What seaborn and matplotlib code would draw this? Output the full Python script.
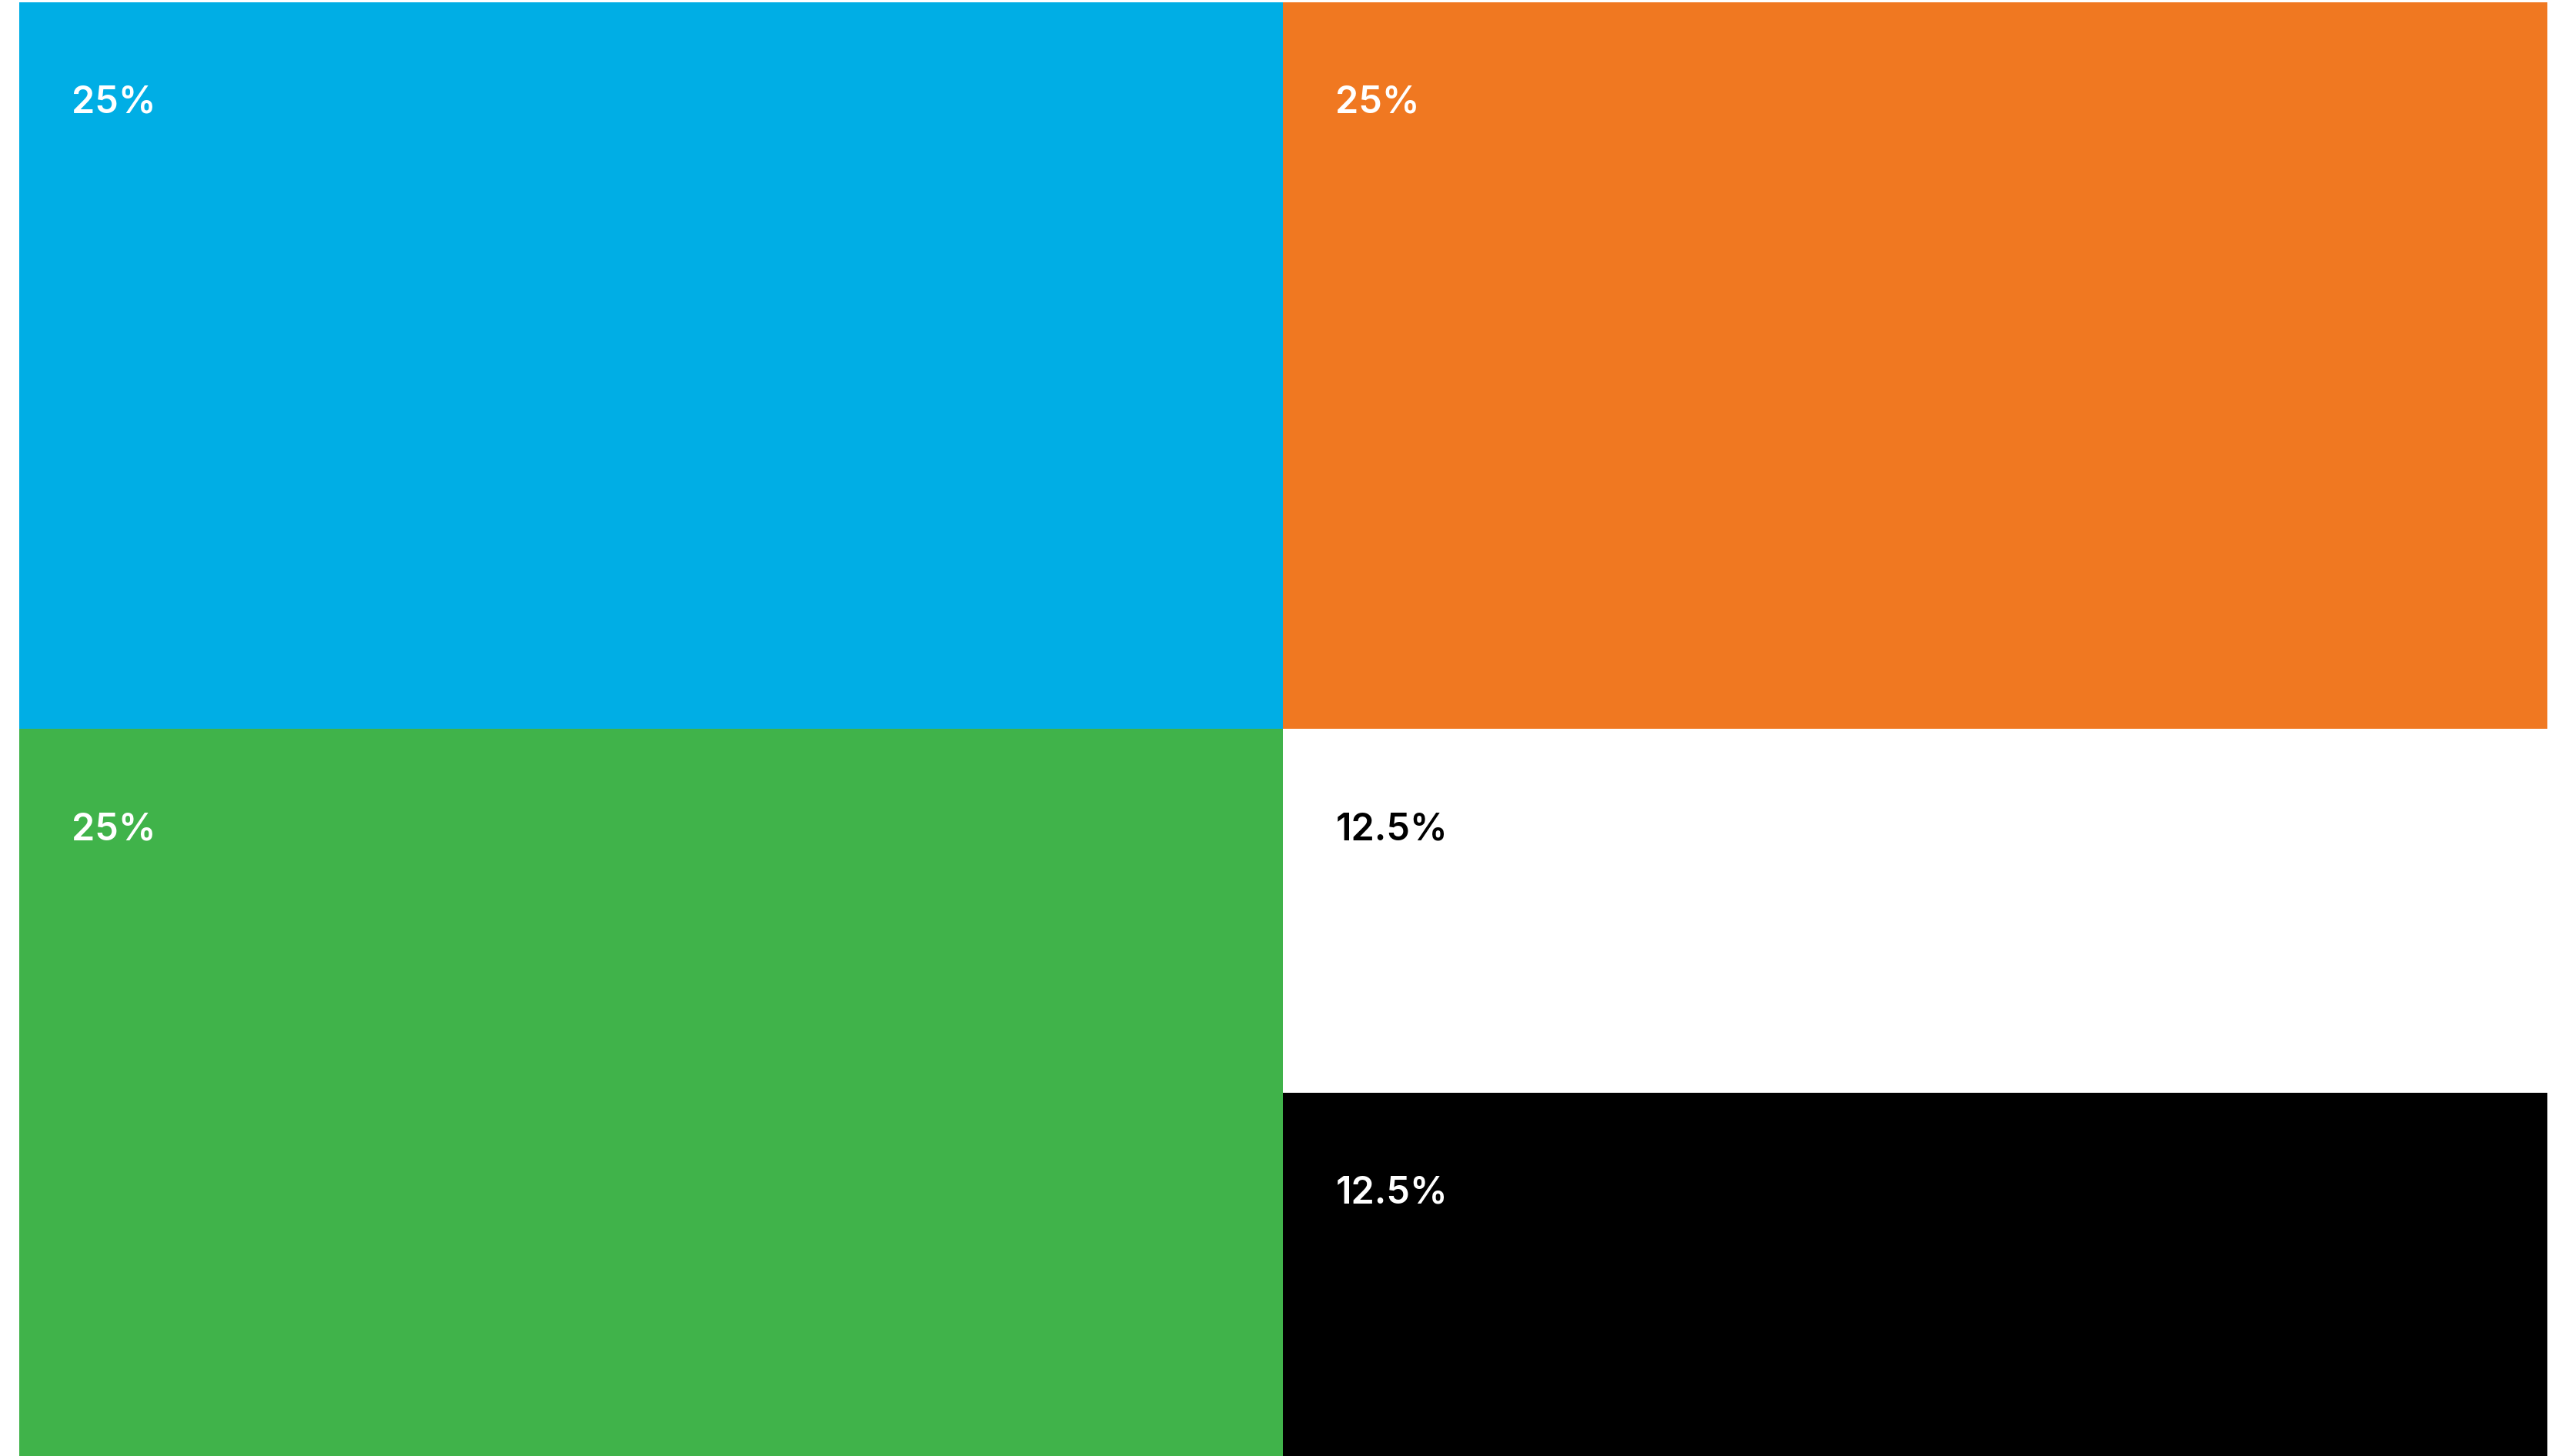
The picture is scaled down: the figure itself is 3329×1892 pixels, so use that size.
import matplotlib
matplotlib.use("Agg")
import matplotlib.pyplot as plt
import seaborn as sns

# ---- data ----
labels = ["25%", "25%", "25%", "12.5%", "12.5%"]
values = [25, 25, 25, 12.5, 12.5]
names = ["blue", "orange", "green", "white", "black"]
colors = ["#00AEE5", "#F07821", "#40B34A", "#FFFFFF", "#000000"]
text_colors = ["white", "white", "white", "black", "white"]
columns = [[0, 2], [1, 3, 4]]  # indices per treemap column

sns.set_theme(style="white")
plt.rcParams["font.family"] = ["Inter", "DejaVu Sans"]

W, H, DPI = 3330, 1892, 100
fig = plt.figure(figsize=(W / DPI, H / DPI), dpi=DPI)
ax = fig.add_axes([25 / W, 0, (3310 - 25) / W, (1892 - 3) / H])

total = sum(values)
x0 = 0.0
for col in columns:
    csum = sum(values[i] for i in col)
    cw = 100.0 * csum / total
    top = 100.0
    for i in col:
        h = 100.0 * values[i] / csum
        ax.bar(x0, h, width=cw, bottom=top - h, align="edge",
               color=colors[i], edgecolor="none", linewidth=0)
        ax.annotate(labels[i], xy=(x0, top), xycoords="data",
                    xytext=(68 * 72 / DPI, -144 * 72 / DPI), textcoords="offset points",
                    ha="left", va="baseline", fontsize=35, fontweight="semibold",
                    color=text_colors[i])
        top -= h
    x0 += cw

ax.set_xlim(0, 100)
ax.set_ylim(0, 100)
ax.set_axis_off()
fig.savefig("out.png", dpi=DPI, facecolor="white")
